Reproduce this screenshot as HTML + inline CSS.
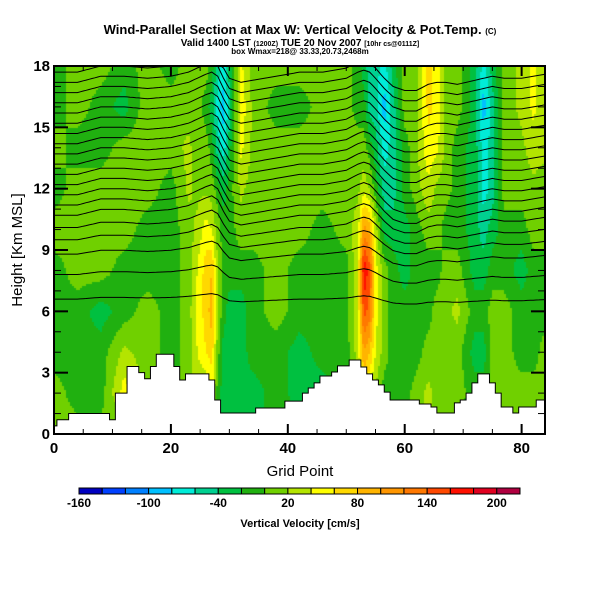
<!DOCTYPE html>
<html><head><meta charset="utf-8">
<style>
html,body{margin:0;padding:0;background:#fff;}
#wrap{position:relative;width:600px;height:600px;overflow:hidden;font-family:"Liberation Sans",sans-serif;}
canvas{position:absolute;left:54px;top:66px;}
svg{position:absolute;left:0;top:0;}
</style></head>
<body>
<div id="wrap">
<canvas id="field" width="491" height="368"></canvas>
<svg id="ov" width="600" height="600">
<text x="300" y="34" text-anchor="middle" font-size="13" font-weight="bold">Wind-Parallel Section at Max W: Vertical Velocity &amp; Pot.Temp. <tspan font-size="8">(C)</tspan></text>
<text x="300" y="46" text-anchor="middle" font-size="10" font-weight="bold">Valid 1400 LST <tspan font-size="7">(1200Z)</tspan> TUE 20 Nov 2007 <tspan font-size="7">[10hr cs@0111Z]</tspan></text>
<text x="300" y="54" text-anchor="middle" font-size="8" font-weight="bold">box Wmax=218@ 33.33,20.73,2468m</text>
<g id="axes"></g>
<text x="300" y="476" text-anchor="middle" font-size="15">Grid Point</text>
<text x="0" y="0" transform="translate(22,250) rotate(-90)" text-anchor="middle" font-size="15">Height [Km MSL]</text>
<g id="cbar"></g>
<text x="300" y="527" text-anchor="middle" font-size="11" font-weight="bold">Vertical Velocity [cm/s]</text>
</svg>
</div>
<script>
// ---- data ----
const colX = [0,4,8,12,16,20,23,24.5,26,27,28,29,30,32,34,38,42,46,50,52,53,54,55,56.5,58,60,62,64,65.5,67,69,72,73.5,75,77,80,82,84];
const rowH = [0,2,4,6,8,10,12,14,16,18];
const wProfiles = [
[10,10,-10,-10,-10,10,-10,10,-10,-10],
[10,-10,-10,-10,10,10,10,-10,10,10],
[10,-10,-10,-30,10,10,10,-10,-10,10],
[-10,50,25,-10,-10,10,15,10,-30,-10],
[10,10,10,10,-10,-10,10,15,15,10],
[-10,-10,-10,-10,-10,-10,-10,10,10,-10],
[-10,10,10,10,10,10,25,25,10,10],
[-10,25,40,45,40,25,15,10,10,10],
[-10,15,60,70,70,50,15,10,-10,10],
[-10,45,70,90,80,40,10,-10,-30,-10],
[-10,-10,10,20,20,10,-10,-50,-70,-50],
[-30,-30,-30,-10,-10,-10,-30,-70,-90,-70],
[-30,-30,-30,-30,-10,-10,-10,-30,-50,-30],
[-30,-30,-30,-30,-10,10,25,45,55,45],
[-30,-30,-10,-10,-10,10,10,15,15,10],
[-10,-10,-10,10,10,10,10,10,-10,10],
[-10,-30,-30,-10,-10,10,10,10,-10,10],
[-10,-30,-10,-10,-10,-10,10,10,10,10],
[-10,-10,-10,-10,-10,10,15,10,10,10],
[-10,15,30,40,40,30,15,10,-10,-10],
[-10,50,100,150,180,110,30,10,-10,-30],
[-10,35,80,130,150,90,20,-10,-50,-50],
[-10,15,40,50,50,30,-10,-30,-50,-50],
[-10,-10,10,10,10,-30,-50,-70,-90,-70],
[-10,-10,-10,-10,-10,-30,-50,-50,-50,-30],
[-10,-10,-10,-10,-30,-30,-10,-10,10,10],
[10,10,-10,-10,-10,-10,10,15,15,15],
[25,25,10,-10,-10,10,35,55,65,65],
[15,15,10,10,-10,10,15,45,55,55],
[10,10,10,15,10,-10,10,15,15,15],
[-10,10,10,25,10,-10,-10,-10,10,10],
[-10,-10,-30,-10,-30,-30,-30,-30,-30,-30],
[-10,-10,-30,-10,-30,-50,-70,-70,-90,-70],
[-10,10,10,10,-10,-30,-50,-50,-50,-30],
[10,10,10,10,-10,-10,10,10,10,10],
[10,10,-10,-10,-30,-10,10,15,25,25],
[10,10,-10,-10,-10,10,15,30,45,45],
[10,10,10,-10,-10,10,10,25,25,25]
];
const thetaLift = [0,0,0.3,0.3,0.2,0.3,0.5,0.7,0.9,1.0,0.8,0.2,-0.3,-0.5,-0.4,-0.2,0,0,0.2,0.5,0.6,0.5,0.2,-0.3,-0.7,-0.9,-0.9,-0.6,-0.5,-0.5,-0.6,-0.4,-0.3,-0.2,-0.3,-0.3,-0.2,-0.1];
const thetaLevels = [6.6,7.8,8.8,9.5,10.1,10.7,11.2,11.7,12.2,12.7,13.2,13.7,14.2,14.7,15.2,15.7,16.2,16.7,17.2,17.7];
const terrain = [0.4,0.7,0.7,1.0,1.0,1.0,1.0,1.0,1.0,1.0,0.7,2.0,2.0,3.3,3.3,3.0,2.7,3.3,3.9,3.9,
3.9,3.3,2.64,2.94,2.94,2.94,2.94,2.64,1.66,1.03,1.03,1.03,1.03,1.03,1.03,1.27,1.27,1.27,1.27,1.27,
1.61,1.61,1.61,2.0,2.25,2.5,2.84,2.84,3.03,3.33,3.33,3.62,3.62,3.28,2.94,2.64,2.4,2.05,1.66,1.66,
1.66,1.66,1.66,1.47,1.47,1.32,1.03,1.03,1.03,1.52,1.66,2.0,2.5,2.94,2.94,2.5,2.0,1.32,1.32,1.03,
1.32,1.32,1.32,1.66,1.66];
const cbLevels = [-160,-140,-120,-100,-80,-60,-40,-20,0,20,40,60,80,100,120,140,160,180,200,220];
const cbLabels = [-160,-100,-40,20,80,140,200];
const xTicks = [0,20,40,60,80];
const yTicks = [0,3,6,9,12,15,18];
const colors = ["#0000c0","#0040ff","#0080ff","#00c0ff","#00ecd8","#00d090","#00c040","#20b010","#70d000","#b4e400","#ffff00","#ffd800","#ffb400","#ff9600","#ff7800","#ff4800","#ff1000","#e00020","#b00040"];

// ---- scales ----
const PX0=54, PY0=66, PW=491, PH=368;
const sx = g => PX0 + g*PW/84;
const sy = h => PY0 + PH - h*PH/18;
const cbx = v => 79 + (v+160)*(441/380);

function interpCol(xs, g){
  let i=0; while(i<xs.length-2 && xs[i+1]<g) i++;
  const t=Math.max(0,Math.min(1,(g-xs[i])/(xs[i+1]-xs[i])));
  return [i,t];
}
function wAt(g,h){
  const [i,t]=interpCol(colX,g);
  let j=Math.min(rowH.length-2,Math.floor(h/2)); const u=Math.max(0,Math.min(1,(h-rowH[j])/2));
  const a=wProfiles[i][j]*(1-u)+wProfiles[i][j+1]*u;
  const b=wProfiles[i+1][j]*(1-u)+wProfiles[i+1][j+1]*u;
  return a*(1-t)+b*t;
}
function binColor(v){
  let k=Math.floor((v+160)/20); k=Math.max(0,Math.min(colors.length-1,k)); return colors[k];
}
const ctx=document.getElementById('field').getContext('2d');
for(let py=0;py<PH;py+=2){
  for(let px=0;px<PW;px+=2){
    const g=(px+1)*84/PW, h=(PH-py-1)*18/PH;
    ctx.fillStyle=binColor(wAt(g,h));
    ctx.fillRect(px,py,2,2);
  }
}
const NS='http://www.w3.org/2000/svg';
const axes=document.getElementById('axes');
function mk(tag,attrs,parent){const e=document.createElementNS(NS,tag);for(const k in attrs)e.setAttribute(k,attrs[k]);(parent||axes).appendChild(e);return e;}

const tg=mk('g',{});


thetaLevels.forEach((lv)=>{
  const pts=[];
  const scale=Math.min(1,Math.max(0.2,(lv-5)/6));
  for(let g=0;g<=84;g+=0.5){
    const [i,t]=interpCol(colX,g);
    const d=(thetaLift[i]*(1-t)+thetaLift[i+1]*t)*scale;
    const h=Math.min(18,lv+d);
    pts.push(sx(g).toFixed(1)+','+sy(h).toFixed(1));
  }
  const p=mk('polyline',{points:pts.join(' '),fill:'none',stroke:'#000','stroke-width':1},tg);
  
  
});
let tp=[sx(0)+','+sy(0)];
terrain.forEach((h,g)=>{const x0=sx(Math.max(0,g-0.5)),x1=sx(Math.min(84,g+0.5));tp.push(x0+','+sy(h));tp.push(x1+','+sy(h));});
tp.push(sx(84)+','+sy(0));
const terr=mk('polygon',{points:tp.join(' '),fill:'#fff',stroke:'#000','stroke-width':1});


const fr=mk('rect',{x:PX0,y:PY0,width:PW,height:PH,fill:'none',stroke:'#000','stroke-width':2});


for(let g=0;g<=84;g+=5){
  const major=g%20===0;
  mk('line',{x1:sx(g),x2:sx(g),y1:PY0+PH,y2:PY0+PH-(major?10:5),stroke:'#000','stroke-width':major?2:1});
  mk('line',{x1:sx(g),x2:sx(g),y1:PY0,y2:PY0+(major?10:5),stroke:'#000','stroke-width':major?2:1});
}
for(let h=0;h<=18;h+=1){
  const major=h%3===0;
  mk('line',{x1:PX0,x2:PX0+(major?14:7),y1:sy(h),y2:sy(h),stroke:'#000','stroke-width':major?2:1});
  mk('line',{x1:PX0+PW,x2:PX0+PW-(major?14:7),y1:sy(h),y2:sy(h),stroke:'#000','stroke-width':major?2:1});
}
xTicks.forEach(v=>{const t=mk('text',{x:sx(v),y:453,'text-anchor':'middle','font-size':15,'font-weight':'bold'});t.textContent=v;

});
yTicks.forEach(v=>{const t=mk('text',{x:PX0-4,y:sy(v)+5,'text-anchor':'end','font-size':15,'font-weight':'bold'});t.textContent=v;

});
const cb=document.getElementById('cbar');


for(let k=0;k<cbLevels.length-1;k++){
  const r=mk('rect',{x:cbx(cbLevels[k]),y:488,width:cbx(cbLevels[k+1])-cbx(cbLevels[k]),height:6,fill:colors[k],stroke:'#000','stroke-width':1},cb);
  
  
}
cbLabels.forEach(v=>{const t=mk('text',{x:cbx(v),y:507,'text-anchor':'middle','font-size':12,'font-weight':'bold'},cb);t.textContent=v;

});
</script>
</body></html>
